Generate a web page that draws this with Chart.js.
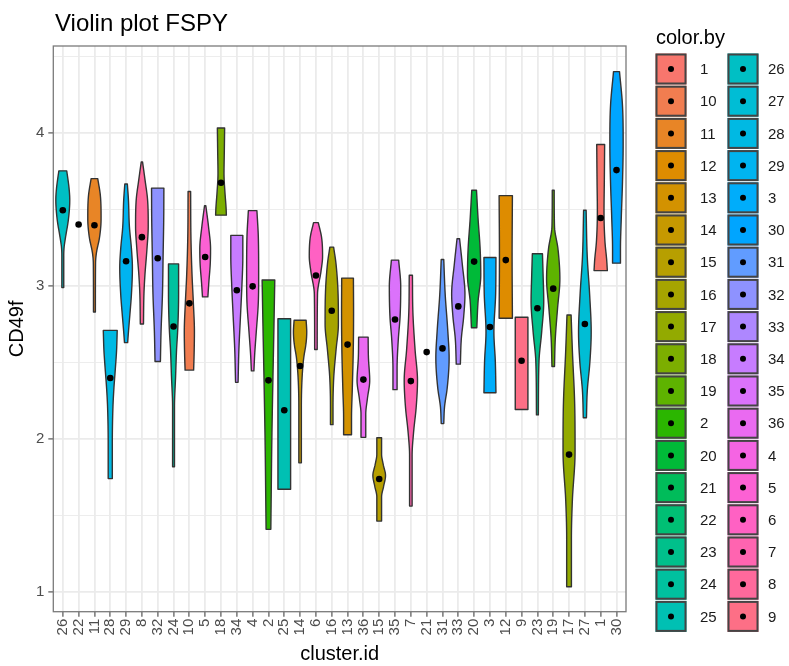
<!DOCTYPE html>
<html>
<head>
<meta charset="utf-8">
<script src="https://cdn.jsdelivr.net/npm/chart.js@4.4.0/dist/chart.umd.min.js"></script>
<style>
  html, body { margin: 0; padding: 0; background: #fff; }
  canvas { display: block; }
</style>
</head>
<body>
<canvas id="violinChart" width="789" height="666"></canvas>
<script>
// cluster order along the x axis
const clusters = ['26', '22', '11', '28', '29', '8', '32', '24', '10', '5', '18', '34', '4', '2', '25', '14', '6', '16',
  '13', '36', '15', '35', '7', '21', '31', '33', '20', '3', '12', '9', '23', '19', '17', '27', '1', '30'];

// black dot per cluster (CD49f)
const centers = [3.496, 3.403, 3.398, 2.398, 3.162, 3.32, 3.182, 2.735, 2.887, 3.19, 3.676, 2.973, 2.998, 2.383,
  2.187, 2.477, 3.069, 2.838, 2.617, 2.388, 1.737, 2.781, 2.378, 2.568, 2.592, 2.867, 3.16, 2.732, 3.17, 2.511,
  2.855, 2.983, 1.897, 2.752, 3.445, 3.759];

// violin outline per cluster: [CD49f, half width in category units], bottom to top
const violinShapes = [
  [[2.99, 0.06], [3.2, 0.06], [3.256, 0.085], [3.317, 0.17], [3.44, 0.36], [3.563, 0.44], [3.636, 0.40], [3.754, 0.25]],
  [],
  [[2.83, 0.06], [3.15, 0.07], [3.22, 0.13], [3.317, 0.32], [3.44, 0.42], [3.587, 0.38], [3.703, 0.21]],
  [[1.74, 0.13], [1.966, 0.13], [2.21, 0.17], [2.33, 0.23], [2.457, 0.32], [2.58, 0.40], [2.71, 0.44]],
  [[2.63, 0.10], [2.70, 0.15], [2.80, 0.23], [2.948, 0.34], [3.12, 0.40], [3.243, 0.34], [3.39, 0.21], [3.563, 0.15], [3.668, 0.08]],
  [[2.752, 0.10], [2.95, 0.13], [3.07, 0.19], [3.243, 0.32], [3.39, 0.40], [3.563, 0.36], [3.686, 0.21], [3.813, 0.04]],
  [[2.506, 0.17], [2.70, 0.21], [2.948, 0.30], [3.194, 0.34], [3.44, 0.38], [3.641, 0.39]],
  [[1.818, 0.06], [2.21, 0.06], [2.408, 0.13], [2.58, 0.19], [2.727, 0.27], [2.948, 0.32], [3.145, 0.32]],
  [[2.45, 0.27], [2.555, 0.30], [2.70, 0.32], [2.897, 0.25], [3.07, 0.17], [3.317, 0.10], [3.619, 0.08]],
  [[2.929, 0.17], [3.022, 0.23], [3.145, 0.32], [3.243, 0.34], [3.39, 0.21], [3.526, 0.04]],
  [[3.464, 0.34], [3.514, 0.32], [3.612, 0.25], [3.735, 0.19], [3.882, 0.21], [4.034, 0.23]],
  [[2.37, 0.08], [2.58, 0.13], [2.80, 0.23], [2.998, 0.32], [3.194, 0.38], [3.332, 0.38]],
  [[2.445, 0.08], [2.555, 0.13], [2.70, 0.23], [2.897, 0.36], [3.07, 0.38], [3.317, 0.36], [3.494, 0.27]],
  [[1.408, 0.15], [1.597, 0.17], [1.966, 0.21], [2.33, 0.27], [2.70, 0.34], [3.04, 0.40]],
  [[1.67, 0.40], [2.088, 0.40], [2.457, 0.40], [2.786, 0.40]],
  [[1.843, 0.08], [2.21, 0.08], [2.408, 0.13], [2.53, 0.23], [2.63, 0.38], [2.70, 0.42], [2.776, 0.38]],
  [[2.585, 0.08], [2.948, 0.10], [3.096, 0.32], [3.194, 0.42], [3.317, 0.36], [3.415, 0.15]],
  [[2.093, 0.08], [2.21, 0.08], [2.408, 0.13], [2.58, 0.27], [2.752, 0.42], [2.948, 0.40], [3.145, 0.27], [3.255, 0.12]],
  [[2.027, 0.25], [2.138, 0.25], [2.33, 0.30], [2.58, 0.36], [2.826, 0.38], [3.052, 0.37]],
  [[2.01, 0.15], [2.162, 0.15], [2.26, 0.25], [2.383, 0.40], [2.53, 0.32], [2.666, 0.30]],
  [[1.462, 0.15], [1.62, 0.15], [1.69, 0.28], [1.76, 0.40], [1.83, 0.26], [1.9, 0.15], [2.007, 0.15]],
  [[2.322, 0.13], [2.457, 0.13], [2.654, 0.21], [2.80, 0.32], [2.998, 0.36], [3.17, 0.23]],
  [[1.56, 0.08], [1.892, 0.08], [2.04, 0.17], [2.21, 0.34], [2.383, 0.42], [2.58, 0.27], [2.826, 0.13], [3.071, 0.10]],
  [],
  [[2.10, 0.08], [2.21, 0.13], [2.334, 0.30], [2.53, 0.42], [2.70, 0.34], [2.948, 0.17], [3.174, 0.08]],
  [[2.489, 0.13], [2.654, 0.19], [2.80, 0.34], [2.948, 0.42], [3.145, 0.25], [3.31, 0.08]],
  [[2.727, 0.17], [2.9, 0.25], [3.071, 0.42], [3.243, 0.38], [3.44, 0.25], [3.627, 0.15]],
  [[2.302, 0.38], [2.506, 0.34], [2.70, 0.25], [2.948, 0.36], [3.187, 0.38]],
  [[2.789, 0.42], [3.194, 0.40], [3.592, 0.42]],
  [[2.192, 0.40], [2.796, 0.40]],
  [[2.157, 0.06], [2.506, 0.10], [2.70, 0.27], [2.9, 0.40], [3.071, 0.36], [3.211, 0.32]],
  [[2.474, 0.08], [2.654, 0.13], [2.85, 0.27], [3.047, 0.42], [3.243, 0.30], [3.39, 0.08], [3.627, 0.06]],
  [[1.032, 0.15], [1.351, 0.15], [1.597, 0.21], [1.916, 0.38], [2.21, 0.36], [2.58, 0.21], [2.811, 0.13]],
  [[2.138, 0.10], [2.31, 0.15], [2.506, 0.32], [2.70, 0.40], [2.948, 0.30], [3.194, 0.15], [3.496, 0.08]],
  [[3.101, 0.42], [3.17, 0.38], [3.29, 0.27], [3.49, 0.21], [3.686, 0.23], [3.926, 0.25]],
  [[3.15, 0.25], [3.243, 0.25], [3.44, 0.30], [3.686, 0.38], [3.93, 0.42], [4.177, 0.38], [4.403, 0.19]]
];

const yTicks = [1, 2, 3, 4];
const yMinorTicks = [1.5, 2.5, 3.5, 4.5];
const yRange = [0.869, 4.571];

// legend levels are sorted as text, like the factor levels
const legendLevels = clusters.slice().sort();

const FONT = "'Liberation Sans', Arial, Helvetica, sans-serif";
Chart.defaults.font.family = FONT;

// ggplot default hue palette (hcl, c = 100, l = 65)
const hclColor = (h, c, l) => {
  const hr = h * Math.PI / 180;
  const U = c * Math.cos(hr), V = c * Math.sin(hr);
  const Xn = 95.047, Yn = 100, Zn = 108.883;
  const Y = l > 8 ? Yn * Math.pow((l + 16) / 116, 3) : Yn * l / 903.3;
  const t = Xn + 15 * Yn + 3 * Zn;
  const up = U / (13 * l) + 4 * Xn / t;
  const vp = V / (13 * l) + 9 * Yn / t;
  const X = Y * 9 * up / (4 * vp);
  const Z = Y * (12 - 3 * up - 20 * vp) / (4 * vp);
  const x = X / 100, y = Y / 100, z = Z / 100;
  const lin = [
    3.240479 * x - 1.537150 * y - 0.498535 * z,
    -0.969256 * x + 1.875992 * y + 0.041556 * z,
    0.055648 * x - 0.204043 * y + 1.057311 * z
  ];
  const rgb = lin.map((v) => {
    const g = v <= 0.0031308 ? 12.92 * v : 1.055 * Math.pow(v, 1 / 2.4) - 0.055;
    return Math.round(Math.min(Math.max(g, 0), 1) * 255);
  });
  return `rgb(${rgb[0]}, ${rgb[1]}, ${rgb[2]})`;
};

const colorFor = (label) => hclColor(15 + 360 * legendLevels.indexOf(label) / legendLevels.length, 100, 65);

// monotone cubic through the outline points, so widths don't overshoot
const monotone = (xs, ys) => {
  const n = xs.length;
  const d = [], m = [];
  for (let k = 0; k < n - 1; k++) d[k] = (ys[k + 1] - ys[k]) / (xs[k + 1] - xs[k]);
  m[0] = d[0];
  m[n - 1] = d[n - 2];
  for (let k = 1; k < n - 1; k++) m[k] = d[k - 1] * d[k] <= 0 ? 0 : (d[k - 1] + d[k]) / 2;
  for (let k = 0; k < n - 1; k++) {
    if (d[k] === 0) { m[k] = 0; m[k + 1] = 0; continue; }
    const a = m[k] / d[k], b = m[k + 1] / d[k], s = a * a + b * b;
    if (s > 9) { const tt = 3 / Math.sqrt(s); m[k] = tt * a * d[k]; m[k + 1] = tt * b * d[k]; }
  }
  return (x) => {
    let k = 0;
    while (k < n - 2 && x > xs[k + 1]) k++;
    const h = xs[k + 1] - xs[k], t = (x - xs[k]) / h;
    const t2 = t * t, t3 = t2 * t;
    return (2 * t3 - 3 * t2 + 1) * ys[k] + (t3 - 2 * t2 + t) * h * m[k] +
      (-2 * t3 + 3 * t2) * ys[k + 1] + (t3 - t2) * h * m[k + 1];
  };
};

const violinPlugin = {
  id: 'violins',
  beforeDatasetsDraw(chart) {
    const { ctx, scales: { x, y } } = chart;
    ctx.save();
    violinShapes.forEach((shape, i) => {
      if (!shape.length) return;
      const vals = shape.map((p) => p[0]);
      const f = monotone(vals, shape.map((p) => p[1]));
      const lo = vals[0], hi = vals[vals.length - 1], n = 80;
      const right = [], left = [];
      for (let k = 0; k <= n; k++) {
        const v = lo + (hi - lo) * k / n;
        const w = Math.max(f(v), 0.03);
        right.push([x.getPixelForValue(i + w), y.getPixelForValue(v)]);
        left.push([x.getPixelForValue(i - w), y.getPixelForValue(v)]);
      }
      ctx.beginPath();
      ctx.moveTo(left[0][0], left[0][1]);
      right.forEach((p) => ctx.lineTo(p[0], p[1]));
      for (let k = n; k >= 0; k--) ctx.lineTo(left[k][0], left[k][1]);
      ctx.closePath();
      ctx.fillStyle = colorFor(clusters[i]);
      ctx.fill();
      ctx.lineWidth = 1.4;
      ctx.lineJoin = 'round';
      ctx.strokeStyle = '#333333';
      ctx.stroke();
    });
    ctx.restore();
  },
  afterDatasetsDraw(chart) {
    // panel border on top, as in theme_bw
    const { ctx, chartArea: a } = chart;
    ctx.save();
    ctx.strokeStyle = '#7a7a7a';
    ctx.lineWidth = 1.3;
    ctx.strokeRect(a.left, a.top, a.right - a.left, a.bottom - a.top);
    ctx.restore();
  },
  afterDraw(chart) {
    const { ctx } = chart;
    ctx.save();
    // plot title
    ctx.fillStyle = '#000';
    ctx.textAlign = 'left';
    ctx.textBaseline = 'alphabetic';
    ctx.font = `24px ${FONT}`;
    ctx.fillText('Violin plot FSPY', 55, 31);

    // legend: two columns of keys
    ctx.font = `20px ${FONT}`;
    ctx.fillText('color.by', 656, 44);
    const perCol = Math.ceil(legendLevels.length / 2);
    const colX = [655.5, 727.5], labelX = [700, 768];
    const top = 53.5, step = 32.2, size = 31;
    ctx.font = `15px ${FONT}`;
    ctx.textBaseline = 'middle';
    legendLevels.forEach((lab, k) => {
      const col = Math.floor(k / perCol), row = k % perCol;
      const kx = colX[col], ky = top + row * step;
      ctx.fillStyle = colorFor(lab);
      ctx.fillRect(kx, ky, size, size);
      ctx.strokeStyle = '#444444';
      ctx.lineWidth = 2;
      ctx.strokeRect(kx + 1, ky + 1, size - 2, size - 2);
      ctx.fillStyle = '#000';
      ctx.beginPath();
      ctx.arc(kx + size / 2, ky + size / 2, 3, 0, Math.PI * 2);
      ctx.fill();
      ctx.fillStyle = '#1a1a1a';
      ctx.fillText(lab, labelX[col], ky + size / 2 + 1);
    });
    ctx.restore();
  }
};

const ctx = document.getElementById('violinChart').getContext('2d');

new Chart(ctx, {
  type: 'scatter',
  data: {
    datasets: [{
      label: 'center',
      data: centers.map((v, i) => ({ x: i, y: v })),
      pointRadius: 3.3,
      pointBackgroundColor: '#000',
      pointBorderWidth: 0,
      showLine: false
    }]
  },
  options: {
    responsive: false,
    animation: false,
    layout: { padding: { left: 0, top: 46, right: 163, bottom: 0 } },
    plugins: {
      legend: { display: false },
      tooltip: { enabled: false }
    },
    scales: {
      x: {
        type: 'linear',
        min: -0.6,
        max: clusters.length - 0.4,
        afterBuildTicks: (scale) => { scale.ticks = clusters.map((_, i) => ({ value: i })); },
        afterFit: (scale) => { scale.height = 54.3; scale.paddingLeft = 0; scale.paddingRight = 0; },
        ticks: {
          autoSkip: false,
          minRotation: 90,
          maxRotation: 90,
          padding: 2,
          color: '#4D4D4D',
          font: { size: 15 },
          callback: (value) => clusters[value]
        },
        grid: { color: '#EBEBEB', lineWidth: 1.8, tickColor: '#555555', tickLength: 5, tickWidth: 1.2 },
        border: { display: false },
        title: { display: true, text: 'cluster.id', color: '#000', font: { size: 20 }, padding: { top: 0, bottom: 0 } }
      },
      y: {
        type: 'linear',
        min: yRange[0],
        max: yRange[1],
        afterBuildTicks: (scale) => {
          scale.ticks = yTicks.concat(yMinorTicks).sort((a, b) => a - b).map((v) => ({ value: v }));
        },
        afterFit: (scale) => { scale.width = 53.3; },
        ticks: {
          padding: 4,
          color: '#4D4D4D',
          font: { size: 15 },
          callback: (value) => (yTicks.includes(value) ? String(value) : '')
        },
        grid: {
          color: '#EBEBEB',
          lineWidth: (c) => (c.tick && yMinorTicks.includes(c.tick.value) ? 0.9 : 1.8),
          tickColor: (c) => (c.tick && yMinorTicks.includes(c.tick.value) ? 'rgba(0,0,0,0)' : '#555555'),
          tickLength: 5,
          tickWidth: 1.2
        },
        border: { display: false },
        title: { display: true, text: 'CD49f', color: '#000', font: { size: 20 }, padding: { top: 5, bottom: 0 } }
      }
    }
  },
  plugins: [violinPlugin]
});
</script>
</body>
</html>
